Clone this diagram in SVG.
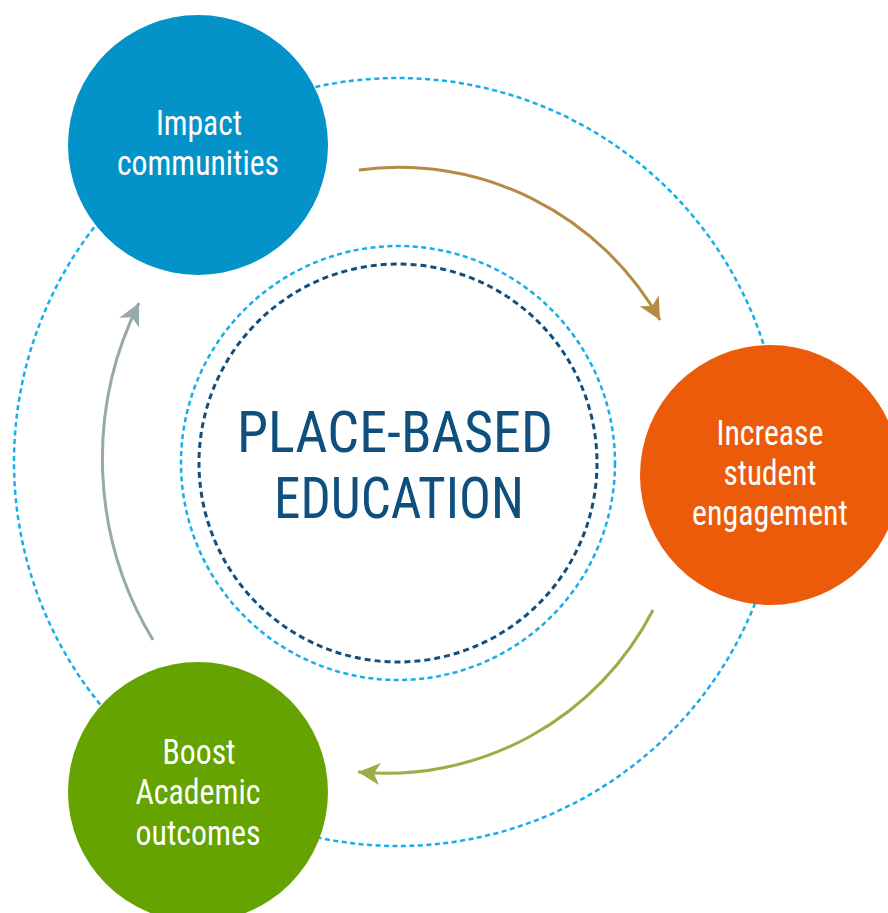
<svg xmlns="http://www.w3.org/2000/svg" width="888" height="913" viewBox="0 0 888 913">
  <defs>
    <style>
      .ring-light { fill: none; stroke: #14aeea; stroke-width: 2.5; stroke-dasharray: 5 3.5; }
      .ring-dark { fill: none; stroke: #124f7c; stroke-width: 3; stroke-dasharray: 6 4; }
      .node-label { font-family: "Liberation Sans Narrow", "Roboto Condensed", "Liberation Sans", sans-serif; font-size: 35px; fill: #ffffff; text-anchor: middle; }
      .title { font-family: "Liberation Sans Narrow", "Roboto Condensed", "Liberation Sans", sans-serif; font-size: 57px; fill: #0f4f7e; text-anchor: middle; }
      .flow { fill: none; stroke-width: 3; }
    </style>
    <marker id="head-brown" markerUnits="userSpaceOnUse" markerWidth="26" markerHeight="26" viewBox="0 0 26 26" refX="24" refY="13" orient="auto">
      <path d="M24 13 L2 2 L8 13 L2 24 Z" fill="#b58a45"/>
    </marker>
    <marker id="head-olive" markerUnits="userSpaceOnUse" markerWidth="26" markerHeight="26" viewBox="0 0 26 26" refX="24" refY="13" orient="auto">
      <path d="M24 13 L2 2 L8 13 L2 24 Z" fill="#9cac48"/>
    </marker>
    <marker id="head-grey" markerUnits="userSpaceOnUse" markerWidth="26" markerHeight="26" viewBox="0 0 26 26" refX="24" refY="13" orient="auto">
      <path d="M24 13 L2 2 L8 13 L2 24 Z" fill="#97a9ad"/>
    </marker>
  </defs>

  <rect width="888" height="913" fill="#ffffff"/>

  <!-- dotted rings -->
  <g id="rings">
    <circle class="ring-light" cx="398" cy="462" r="384"/>
    <circle class="ring-light" cx="398" cy="463" r="217"/>
    <circle class="ring-dark" cx="398" cy="463" r="199"/>
  </g>

  <!-- curved flow arrows between the stages -->
  <g id="connectors">
    <path class="flow" stroke="#b58a45" d="M359 170 A300 300 0 0 1 660 320" marker-end="url(#head-brown)"/>
    <path class="flow" stroke="#9cac48" d="M653 610 A300 300 0 0 1 358 772" marker-end="url(#head-olive)"/>
    <path class="flow" stroke="#97a9ad" d="M153 640 A350 350 0 0 1 139 303" marker-end="url(#head-grey)"/>
  </g>

  <g id="center">
    <text class="title" x="395" y="452" textLength="316" lengthAdjust="spacingAndGlyphs">PLACE-BASED</text>
    <text class="title" x="399" y="518" textLength="250" lengthAdjust="spacingAndGlyphs">EDUCATION</text>
  </g>

  <g id="node-impact">
    <circle cx="198" cy="145" r="130" fill="#0393c9"/>
    <text class="node-label" x="199" y="135" textLength="86" lengthAdjust="spacingAndGlyphs">Impact</text>
    <text class="node-label" x="198" y="175" textLength="162" lengthAdjust="spacingAndGlyphs">communities</text>
  </g>

  <g id="node-engagement">
    <circle cx="770" cy="475" r="130" fill="#ec5b0a"/>
    <text class="node-label" x="770" y="445" textLength="107" lengthAdjust="spacingAndGlyphs">Increase</text>
    <text class="node-label" x="770" y="485" textLength="93" lengthAdjust="spacingAndGlyphs">student</text>
    <text class="node-label" x="770" y="525" textLength="156" lengthAdjust="spacingAndGlyphs">engagement</text>
  </g>

  <g id="node-outcomes">
    <circle cx="198" cy="792" r="130" fill="#64a300"/>
    <text class="node-label" x="199" y="764" textLength="73" lengthAdjust="spacingAndGlyphs">Boost</text>
    <text class="node-label" x="198" y="804" textLength="125" lengthAdjust="spacingAndGlyphs">Academic</text>
    <text class="node-label" x="198" y="845" textLength="125" lengthAdjust="spacingAndGlyphs">outcomes</text>
  </g>
</svg>
